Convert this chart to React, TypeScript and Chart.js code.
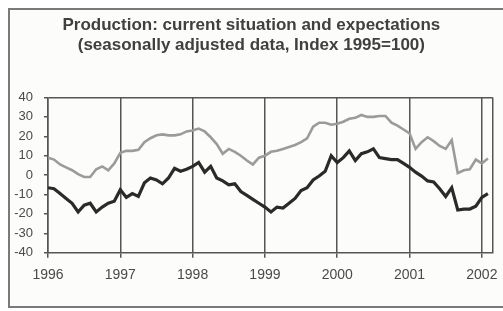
import React, { useEffect, useRef } from "react";
import { Chart, registerables } from "chart.js";

Chart.register(...registerables);

// Monthly observations, Jan 1996 .. Feb 2002 (index 0 = Jan 1996)
const startYear = 1996;
const yearTicks = [1996, 1997, 1998, 1999, 2000, 2001, 2002];
const yTicks = [-40, -30, -20, -10, 0, 10, 20, 30, 40];

const expectations = [
  9, 8, 5.5, 4, 2.5, 0.5, -1, -1, 3, 4.5, 2.5, 6,
  11.5, 12.5, 12.5, 13, 17, 19, 20.5, 21, 20.5, 20.5, 21, 22.5,
  23, 24, 22.5, 19.5, 16, 11, 13.5, 12, 10, 7.5, 5.5, 9,
  10, 12, 12.5, 13.5, 14.5, 15.5, 17, 19, 25, 27, 27, 26,
  26.5, 27.5, 29, 29.5, 31, 30, 30, 30.5, 30.5, 27, 25.5, 23.5,
  21.5, 13.5, 17, 19.5, 17.5, 15, 13.5, 18, 1, 2.5, 3, 8, 6, 8.5,
];

const currentSituation = [
  -6.5, -7, -9.5, -12, -14.5, -19, -15.5, -14.5, -19, -16.5, -14.5, -13.5,
  -7.5, -11.5, -9.5, -11, -4, -1.5, -2.5, -4.5, -1.5, 3.5, 2, 3,
  4.5, 6.5, 1.5, 4.5, -1.5, -3, -5, -4.5, -8.5, -10.5, -12.5, -14.5,
  -16.5, -19, -16.5, -17, -14.5, -12, -8, -6.5, -2.5, -0.5, 2, 10,
  6.5, 9, 12.5, 7.5, 11, 12, 13.5, 9, 8.5, 8, 8, 6,
  4, 1.5, -0.5, -3, -3.5, -7, -11, -6.5, -18, -17.5, -17.5, -16, -11.5, -9.5,
];

const titleLines = [
  "Production: current situation and expectations",
  "(seasonally adjusted data, Index 1995=100)",
];

const X_MAX = 73.8;

export default function App() {
  const ref = useRef<HTMLCanvasElement>(null);

  useEffect(() => {
    if (!ref.current) return;
    const toPoints = (arr: number[]) => arr.map((v, i) => ({ x: i, y: v }));
    const axisColor = "#555";
    const chart = new Chart(ref.current, {
      type: "line",
      data: {
        datasets: [
          {
            label: "Expectations",
            data: toPoints(expectations),
            borderColor: "#9b9b9b",
            borderWidth: 2.6,
            pointRadius: 0,
            tension: 0,
          },
          {
            label: "Current situation",
            data: toPoints(currentSituation),
            borderColor: "#2a2a2a",
            borderWidth: 3.2,
            pointRadius: 0,
            tension: 0,
          },
        ],
      },
      options: {
        animation: false,
        responsive: false,
        devicePixelRatio: 1,
        layout: { padding: { left: 0, right: 10.3, top: 0, bottom: 0 } },
        plugins: {
          legend: { display: false },
          tooltip: { enabled: false },
          title: {
            display: true,
            text: titleLines,
            color: "#404040",
            font: { family: "'Liberation Sans', Arial, sans-serif", size: 17, weight: "bold", lineHeight: 1.2 },
            padding: { top: 4.8, bottom: 41.9 },
          },
        },
        scales: {
          x: {
            type: "linear",
            min: 0,
            max: X_MAX,
            afterBuildTicks: (scale: any) => {
              const t = yearTicks.map((y) => ({ value: (y - startYear) * 12 }));
              t.push({ value: X_MAX });
              scale.ticks = t;
            },
            afterFit: (scale: any) => {
              scale.height = 53.3;
            },
            ticks: {
              autoSkip: false,
              maxRotation: 0,
              padding: 9,
              color: "#4a4a4a",
              font: { family: "'Liberation Sans', Arial, sans-serif", size: 14 },
              callback: (value: any) => {
                const v = Number(value);
                return v % 12 === 0 ? String(startYear + v / 12) : "";
              },
            },
            grid: {
              color: axisColor,
              lineWidth: 1.5,
              tickLength: 5,
              tickColor: (ctx: any) => (ctx.tick && ctx.tick.value > 72.5 ? "rgba(0,0,0,0)" : axisColor),
            },
            border: { display: true, color: axisColor, width: 1.5 },
          },
          y: {
            min: -40,
            max: 40,
            afterBuildTicks: (scale: any) => {
              scale.ticks = yTicks.map((v) => ({ value: v }));
            },
            afterFit: (scale: any) => {
              scale.width = 38;
            },
            ticks: {
              padding: 11,
              color: "#4a4a4a",
              font: { family: "'Liberation Sans', Arial, sans-serif", size: 13 },
            },
            grid: {
              color: (ctx: any) => (ctx.tick && ctx.tick.value === 40 ? axisColor : "rgba(0,0,0,0)"),
              lineWidth: 1.5,
              tickLength: 4,
              tickColor: axisColor,
            },
            border: { display: true, color: axisColor, width: 1.5 },
          },
        },
      },
    });
    return () => chart.destroy();
  }, []);

  return (
    <div
      style={{
        position: "fixed",
        left: 8,
        top: 8,
        width: 495,
        height: 300,
        boxSizing: "border-box",
        borderLeft: "2px solid #7a7a7a",
        borderTop: "2px solid #7a7a7a",
        borderBottom: "2px solid #7a7a7a",
        background: "#fcfcfa",
      }}
    >
      <canvas
        ref={ref}
        width={493}
        height={296}
        style={{ position: "absolute", left: 0, top: 0, width: 493, height: 296 }}
      />
    </div>
  );
}
